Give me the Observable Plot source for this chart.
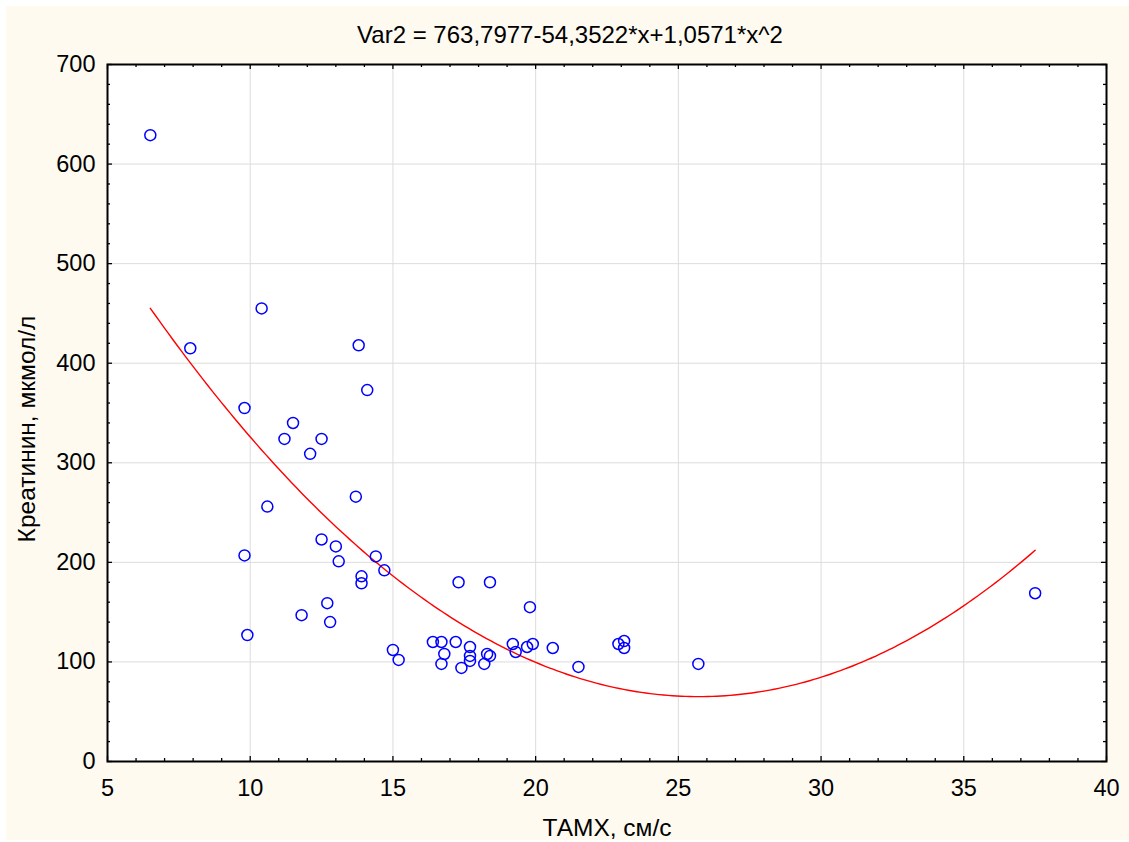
<!DOCTYPE html>
<html>
<head>
<meta charset="utf-8">
<script src="https://cdn.jsdelivr.net/npm/d3@7"></script>
<script src="https://cdn.jsdelivr.net/npm/@observablehq/plot@0.6"></script>
<style>
  html, body { margin: 0; padding: 0; background: #ffffff; }
  #wrap { position: absolute; left: 6px; top: 6px; width: 1123px; height: 834px; background: #fefaf0; }
  svg { display: block; }
</style>
</head>
<body>
<div id="wrap"></div>
<script>
// Data
const tamx = [6.5, 7.9, 10.4, 9.8, 11.5, 11.2, 12.5, 12.1, 10.6, 9.8, 9.9, 13.8, 14.1, 13.7, 12.5, 13.0, 13.1, 14.4, 14.7, 13.9, 13.9, 11.8, 12.7, 12.8, 15.0, 15.2, 17.3, 18.4, 19.8, 16.4, 16.7, 17.2, 17.7, 16.8, 17.7, 17.7, 16.7, 17.4, 18.2, 18.3, 18.4, 19.2, 19.3, 19.7, 19.9, 20.6, 21.5, 22.9, 23.1, 23.1, 25.7, 37.5];
const creat = [629, 415, 455, 355, 340, 324, 324, 309, 256, 207, 127, 418, 373, 266, 223, 216, 201, 206, 192, 186, 179, 147, 159, 140, 112, 102, 180, 180, 155, 120, 120, 120, 115, 108, 106, 101, 98, 94, 98, 108, 106, 118, 110, 115, 118, 114, 95, 118, 121, 114, 98, 169];
const coefs = [763.7977, -54.3522, 1.0571];
const xTicks = [5, 10, 15, 20, 25, 30, 35, 40];
const yTicks = [0, 100, 200, 300, 400, 500, 600, 700];
const titleText = "Var2 = 763,7977-54,3522*x+1,0571*x^2";
const xLabel = "ТАМХ, см/с";
const yLabel = "Креатинин, мкмол/л";

const points = tamx.map((x, i) => ({x, y: creat[i]}));
const xmin = d3.min(tamx), xmax = d3.max(tamx);
const curve = d3.range(xmin, xmax + 1e-9, (xmax - xmin) / 200).map(x => ({x, y: coefs[0] + coefs[1] * x + coefs[2] * x * x}));
const xMinor = d3.range(5, 40.001, 1).filter(v => v % 5 !== 0);
const yMinor = d3.range(0, 700.001, 20).filter(v => v % 100 !== 0);

const W = 1123, H = 834;
const mL = 101, mT = 58, mR = 23, mB = 79;
const pw = W - mL - mR, ph = H - mT - mB;
const font = "Liberation Sans, Arial, Helvetica, sans-serif";

const chart = Plot.plot({
  width: W, height: H,
  marginLeft: mL, marginTop: mT, marginRight: mR, marginBottom: mB,
  style: {fontFamily: font, background: "transparent", color: "#000", overflow: "visible"},
  x: {domain: [5, 40], ticks: xTicks},
  y: {domain: [0, 700], ticks: yTicks},
  marks: [
    Plot.frame({fill: "white", stroke: null}),
    Plot.gridX(xTicks, {stroke: "#dcdcdc", strokeOpacity: 1, strokeWidth: 1}),
    Plot.gridY(yTicks, {stroke: "#dcdcdc", strokeOpacity: 1, strokeWidth: 1}),
    // inward ticks: bottom/top
    Plot.tickX(xTicks, {x: d => d, insetTop: ph - 5, stroke: "black", strokeWidth: 1.3}),
    Plot.tickX(xTicks, {x: d => d, insetBottom: ph - 5, stroke: "black", strokeWidth: 1.3}),
    Plot.tickX(xMinor, {x: d => d, insetTop: ph - 3, stroke: "black", strokeWidth: 1.3}),
    Plot.tickX(xMinor, {x: d => d, insetBottom: ph - 3, stroke: "black", strokeWidth: 1.3}),
    // inward ticks: left/right
    Plot.tickY(yTicks, {y: d => d, insetRight: pw - 5, stroke: "black", strokeWidth: 1.3}),
    Plot.tickY(yTicks, {y: d => d, insetLeft: pw - 5, stroke: "black", strokeWidth: 1.3}),
    Plot.tickY(yMinor, {y: d => d, insetRight: pw - 3, stroke: "black", strokeWidth: 1.3}),
    Plot.tickY(yMinor, {y: d => d, insetLeft: pw - 3, stroke: "black", strokeWidth: 1.3}),
    Plot.axisX(xTicks, {tickSize: 0, tickPadding: 18, fontSize: 23.5, label: null}),
    Plot.axisY(yTicks, {tickSize: 0, tickPadding: 12, fontSize: 23.5, label: null}),
    Plot.line(curve, {x: "x", y: "y", stroke: "#ff0000", strokeWidth: 1.4}),
    Plot.dot(points, {x: "x", y: "y", r: 5.5, stroke: "#0000ff", strokeWidth: 1.5, fill: "none"}),
    Plot.frame({stroke: "black", strokeWidth: 2}),
    Plot.text([titleText], {frameAnchor: "top", dx: -37, dy: -29, fontSize: 24, fill: "black", lineAnchor: "middle"}),
    Plot.text([xLabel], {frameAnchor: "bottom", dy: 67, fontSize: 24.5, fill: "black", lineAnchor: "middle"}),
    Plot.text([yLabel], {frameAnchor: "left", dx: -80, dy: 16, rotate: -90, textAnchor: "middle", fontSize: 24.5, fill: "black", lineAnchor: "middle"})
  ]
});
document.getElementById("wrap").appendChild(chart);
</script>
</body>
</html>
